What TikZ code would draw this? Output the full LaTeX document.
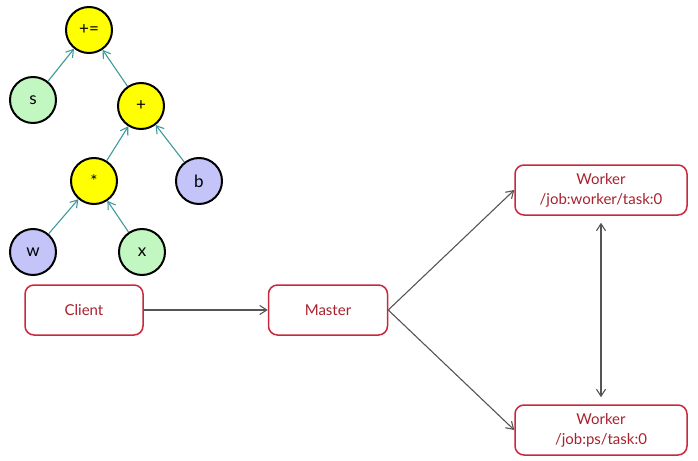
\documentclass[tikz,border=0pt]{standalone}
\usepackage{fontspec}
\setmainfont{Lato}
\usetikzlibrary{arrows.meta}
\definecolor{yel}{HTML}{FFFF00}
\definecolor{grn}{HTML}{C2F7C2}
\definecolor{pur}{HTML}{C4C4F8}
\definecolor{tealc}{HTML}{3E9A9A}
\definecolor{boxred}{HTML}{C8283C}
\definecolor{txtred}{HTML}{A8222E}
\definecolor{linegray}{HTML}{555555}
\tikzset{
  opnode/.style={circle, draw=black, line width=2pt, minimum size=46pt, inner sep=0pt, font=\fontsize{17}{19}\selectfont},
  srvbox/.style={draw=boxred, line width=1.5pt, rounded corners=9pt, fill=white, text=txtred, align=center, font=\fontsize{15}{20}\selectfont, inner sep=0pt},
  treearrow/.style={draw=tealc, line width=1.1pt, -{Straight Barb[length=7pt,width=9pt]}},
  flowarrow/.style={draw=linegray, line width=1.1pt, -{Straight Barb[length=7pt,width=9pt]}},
  bothflow/.style={draw=linegray, line width=1.1pt, {Straight Barb[length=7pt,width=9pt]}-{Straight Barb[length=7pt,width=9pt]}}
}
\begin{document}
\begin{tikzpicture}[x=1pt,y=-1pt]
\useasboundingbox (0,0) rectangle (698,460);
% tree
\node[opnode, fill=yel] (pe) at (89,30) {+=};
\node[opnode, fill=grn] (s) at (33,100) {s};
\node[opnode, fill=yel] (plus) at (141,106) {+};
\node[opnode, fill=yel] (mul) at (94,181) {*};
\node[opnode, fill=pur] (b) at (199,181) {b};
\node[opnode, fill=pur] (w) at (33,252) {w};
\node[opnode, fill=grn] (x) at (142,252) {x};
\draw[treearrow] (s) -- (pe);
\draw[treearrow] (plus) -- (pe);
\draw[treearrow] (mul) -- (plus);
\draw[treearrow] (b) -- (plus);
\draw[treearrow] (w) -- (mul);
\draw[treearrow] (x) -- (mul);
% servers
\node[srvbox, minimum width=118pt, minimum height=50pt] (client) at (84,310) {Client};
\node[srvbox, minimum width=119pt, minimum height=50pt] (master) at (328,310) {Master};
\node[srvbox, minimum width=172pt, minimum height=50pt] (w1) at (601,190) {Worker\\/job:worker/task:0};
\node[srvbox, minimum width=172pt, minimum height=50pt] (w2) at (601,430) {Worker\\/job:ps/task:0};
\draw[flowarrow] (client) -- (master);
\draw[flowarrow] (master.east) -- (w1.west);
\draw[flowarrow] (master.east) -- (w2.west);
\draw[bothflow] ([yshift=-7pt]w1.south) -- ([yshift=7pt]w2.north);
\end{tikzpicture}
\end{document}
